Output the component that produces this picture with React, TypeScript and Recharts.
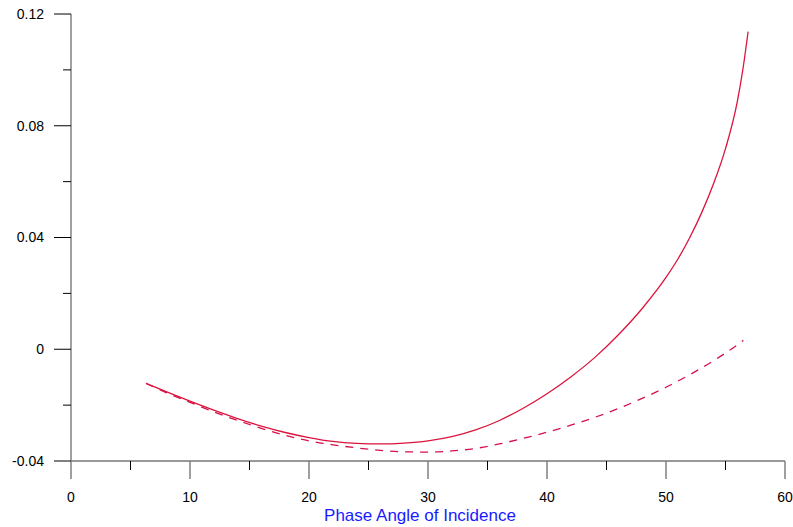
import React from "react";
import { LineChart, Line, XAxis, YAxis } from "recharts";

const angles = [6.3, 8, 10, 12, 14, 16, 18, 20, 22, 24, 26, 28, 30, 32, 34, 36, 38, 40, 42, 44, 46, 48, 50, 51, 52, 53, 54, 55, 56, 56.5, 56.9];
const solidSeries = [-0.0122, -0.0152, -0.0186, -0.0218, -0.0248, -0.0275, -0.0298, -0.0316, -0.033, -0.0337, -0.0339, -0.0336, -0.0328, -0.0313, -0.0289, -0.0255, -0.0211, -0.0159, -0.0099, -0.003, 0.0052, 0.0146, 0.0257, 0.0323, 0.04, 0.0489, 0.0593, 0.0718, 0.0888, 0.1013, 0.1137];
const dashedAngles = [6.3, 8, 10, 12, 14, 16, 18, 20, 22, 24, 26, 28, 30, 32, 34, 36, 38, 40, 42, 44, 46, 48, 50, 52, 54, 56, 56.5];
const dashedSeries = [-0.0122, -0.0155, -0.019, -0.0224, -0.0255, -0.0283, -0.0308, -0.0328, -0.0342, -0.0353, -0.0362, -0.0367, -0.0368, -0.0364, -0.0355, -0.0339, -0.0319, -0.0297, -0.0272, -0.0244, -0.0212, -0.0176, -0.0136, -0.0091, -0.0041, 0.0016, 0.0032];

const xTicks = [0, 5, 10, 15, 20, 25, 30, 35, 40, 45, 50, 55, 60];
const yTicks = [-0.04, -0.02, 0, 0.02, 0.04, 0.06, 0.08, 0.1, 0.12];
const yMajorLabels: Record<string, string> = { "-0.04": "-0.04", "0": "0", "0.04": "0.04", "0.08": "0.08", "0.12": "0.12" };
const xTitle = "Phase Angle of Incidence";

const solidData = angles.map((a, i) => ({ x: a, y: solidSeries[i] }));
const dashedData = dashedAngles.map((a, i) => ({ x: a, y: dashedSeries[i] }));

const FONT = "'Liberation Sans', Arial, sans-serif";
const W = 793;
const H = 527;
const M = { top: 14, right: 8, left: 0, bottom: 0 };
const YW = 71;
const XH = 66;
const AXIS_X = M.left + YW;
const AXIS_Y = H - M.bottom - XH;

const YTick = (props: any) => {
  const { payload } = props;
  const y = payload.coordinate;
  const key = String(Math.round(payload.value * 100) / 100);
  const label = yMajorLabels[key === "-0" ? "0" : key];
  const major = label !== undefined;
  return (
    <g>
      <line x1={AXIS_X - (major ? 17 : 8)} x2={AXIS_X} y1={y} y2={y} stroke="#000" strokeWidth={1} />
      {major && (
        <text x={AXIS_X - 27} y={y} dy="0.35em" textAnchor="end" fontSize={14} fontFamily={FONT} fill="#000">
          {label}
        </text>
      )}
    </g>
  );
};

const XTick = (props: any) => {
  const { payload } = props;
  const x = payload.coordinate;
  const major = payload.value % 10 === 0;
  return (
    <g>
      <line x1={x} x2={x} y1={AXIS_Y} y2={AXIS_Y + (major ? 18 : 9)} stroke={major ? "#808080" : "#000"} strokeWidth={major ? 1.5 : 1} />
      {major && (
        <text x={x} y={AXIS_Y + 41} textAnchor="middle" fontSize={14} fontFamily={FONT} fill="#000">
          {payload.value}
        </text>
      )}
    </g>
  );
};

const TitleLabel = () => (
  <text x={420} y={521} textAnchor="middle" fontSize={17} fontFamily={FONT} fill="#1a1aff">
    {xTitle}
  </text>
);

export default function App() {
  return (
    <div style={{ position: "absolute", left: 0, top: 0, width: W, height: H }}>
      <LineChart width={W} height={H} margin={M}>
        <XAxis
          type="number"
          dataKey="x"
          domain={[0, 60]}
          ticks={xTicks}
          interval={0}
          allowDataOverflow
          height={XH}
          tickLine={false}
          tickSize={0}
          tickMargin={0}
          axisLine={{ stroke: "#333", strokeWidth: 1 }}
          tick={<XTick />}
          label={<TitleLabel />}
        />
        <YAxis
          type="number"
          dataKey="y"
          domain={[-0.04, 0.12]}
          ticks={yTicks}
          interval={0}
          allowDataOverflow
          width={YW}
          tickLine={false}
          tickSize={0}
          tickMargin={0}
          axisLine={{ stroke: "#808080", strokeWidth: 1.5 }}
          tick={<YTick />}
        />
        <Line data={dashedData} type="monotone" dataKey="y" stroke="#d6104a" strokeWidth={1.3} strokeDasharray="8 7" dot={false} isAnimationActive={false} />
        <Line data={solidData} type="monotone" dataKey="y" stroke="#dc143c" strokeWidth={1.3} dot={false} isAnimationActive={false} />
      </LineChart>
    </div>
  );
}
